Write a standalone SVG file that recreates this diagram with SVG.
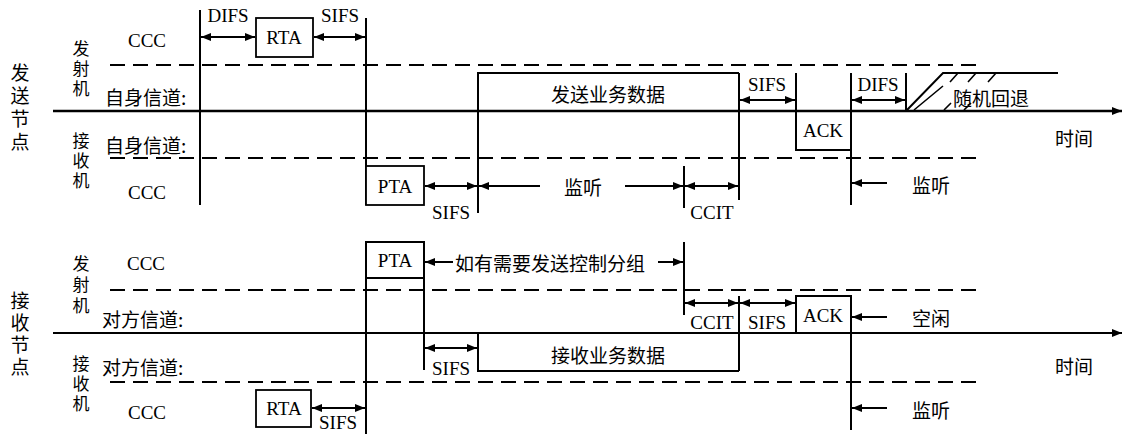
<svg xmlns="http://www.w3.org/2000/svg" width="1123" height="434" viewBox="0 0 1123 434">
<defs>
<marker id="ah" viewBox="0 0 10 8" refX="10" refY="4" markerWidth="11" markerHeight="8" orient="auto-start-reverse" markerUnits="userSpaceOnUse"><path d="M0,0 L10,4 L0,8 z" fill="#000"/></marker>
<style>
.ln{stroke:#000;stroke-width:2;fill:none}
.th{stroke:#000;stroke-width:1.6;fill:none}
.ds{stroke:#000;stroke-width:2.2;fill:none;stroke-dasharray:15 8}
.ar{stroke:#000;stroke-width:2;fill:none;marker-end:url(#ah)}
.da{stroke:#000;stroke-width:2;fill:none;marker-start:url(#ah);marker-end:url(#ah)}
.bx{stroke:#000;stroke-width:1.8;fill:#fff}
.en{font-family:"Liberation Serif",serif;font-size:19px;fill:#000;text-anchor:middle}
.cn{font-family:"Noto Sans CJK SC",sans-serif;font-size:19px;fill:#000;dominant-baseline:central}
.cm{font-family:"Noto Sans CJK SC",sans-serif;font-size:19px;fill:#000;dominant-baseline:central;text-anchor:middle}
.vt{font-family:"Noto Sans CJK SC",sans-serif;font-size:19px;fill:#000;writing-mode:vertical-rl}
.vs{font-family:"Noto Sans CJK SC",sans-serif;font-size:17px;fill:#000;writing-mode:vertical-rl}
</style>
</defs>
<rect width="1123" height="434" fill="#fff"/>

<g id="labels-left">
<text class="vt" x="20" y="63.5" letter-spacing="4">发送节点</text>
<text class="vt" x="20" y="291.5" letter-spacing="3">接收节点</text>
<text class="vs" x="81" y="40.5" letter-spacing="3">发射机</text>
<text class="vs" x="81" y="132.5" letter-spacing="3">接收机</text>
<text class="vs" x="81" y="255.5" letter-spacing="4">发射机</text>
<text class="vs" x="81" y="355.5" letter-spacing="3">接收机</text>
<text class="en" x="147" y="47">CCC</text>
<text class="en" x="147" y="199">CCC</text>
<text class="en" x="146" y="270">CCC</text>
<text class="en" x="147" y="419">CCC</text>
<text class="cn" x="105" y="96">自身信道:</text>
<text class="cn" x="105" y="144">自身信道:</text>
<text class="cn" x="102" y="318">对方信道:</text>
<text class="cn" x="102" y="366">对方信道:</text>
<text class="cn" x="1055" y="137">时间</text>
<text class="cn" x="1055" y="365">时间</text>
</g>

<g id="axes">
<line class="ds" x1="110" y1="65" x2="980" y2="65"/>
<line class="ds" x1="110" y1="158" x2="980" y2="158"/>
<line class="ds" x1="110" y1="290" x2="980" y2="290"/>
<line class="ds" x1="110" y1="382" x2="980" y2="382"/>
<line class="ar" x1="53" y1="111" x2="1122" y2="111" style="stroke-width:2.4"/>
<line class="ar" x1="53" y1="333" x2="1122" y2="333"/>
</g>

<g id="connectors">
<line class="ln" x1="200" y1="10" x2="200" y2="205"/>
<line class="ln" x1="366" y1="18" x2="366" y2="205"/>
<line class="ln" x1="366" y1="242" x2="366" y2="434"/>
<line class="ln" x1="684" y1="166" x2="684" y2="208"/>
<line class="ln" x1="739" y1="73" x2="739" y2="200"/>
<line class="ln" x1="851" y1="73" x2="851" y2="205"/>
<line class="ln" x1="906" y1="73" x2="906" y2="111"/>
<line class="ln" x1="478" y1="111" x2="478" y2="213"/>
<line class="ln" x1="424" y1="278" x2="424" y2="370"/>
<line class="ln" x1="684" y1="242" x2="684" y2="315"/>
<line class="ln" x1="739" y1="296" x2="739" y2="371"/>
<line class="ln" x1="851" y1="333" x2="851" y2="430"/>

<line class="da" x1="201" y1="37" x2="255" y2="37"/>
<line class="da" x1="314" y1="37" x2="365" y2="37"/>
<line class="da" x1="425" y1="186" x2="477" y2="186"/>
<line class="ar" x1="540" y1="186" x2="479" y2="186"/>
<line class="ar" x1="625" y1="186" x2="683" y2="186"/>
<line class="da" x1="685" y1="186" x2="738" y2="186"/>
<line class="da" x1="740" y1="100" x2="795" y2="100"/>
<line class="da" x1="852" y1="100" x2="905" y2="100"/>
<line class="ar" x1="887" y1="183" x2="852" y2="183"/>

<line class="ar" x1="453" y1="262" x2="425" y2="262"/>
<line class="ar" x1="658" y1="262" x2="683" y2="262"/>
<line class="da" x1="685" y1="303" x2="738" y2="303"/>
<line class="da" x1="740" y1="303" x2="795" y2="303"/>
<line class="ar" x1="887" y1="317" x2="852" y2="317"/>
<line class="da" x1="425" y1="348" x2="477" y2="348"/>
<line class="da" x1="312" y1="408" x2="365" y2="408"/>
<line class="ar" x1="887" y1="408" x2="852" y2="408"/>
</g>

<g id="interval-labels">
<text class="en" x="228" y="22">DIFS</text>
<text class="en" x="340" y="22">SIFS</text>
<text class="en" x="451" y="219">SIFS</text>
<text class="en" x="712" y="219">CCIT</text>
<text class="en" x="767" y="91">SIFS</text>
<text class="en" x="878" y="91">DIFS</text>
<text class="cm" x="583" y="186">监听</text>
<text class="cn" x="912" y="184">监听</text>
<text class="cn" x="455" y="262">如有需要发送控制分组</text>
<text class="en" x="712" y="329">CCIT</text>
<text class="en" x="767" y="329">SIFS</text>
<text class="cn" x="912" y="317">空闲</text>
<text class="en" x="451" y="375">SIFS</text>
<text class="en" x="338" y="429">SIFS</text>
<text class="cn" x="912" y="409">监听</text>
</g>

<g id="rta-top"><rect class="bx" x="256" y="18" width="57" height="39"/><text class="en" x="284" y="44">RTA</text></g>
<g id="pta-top"><rect class="bx" x="366" y="166" width="58" height="39"/><text class="en" x="395" y="193">PTA</text></g>
<g id="data-send"><path class="ln" d="M478,111 V73 H739"/><text class="cm" x="608" y="93">发送业务数据</text></g>
<g id="ack-top"><path class="ln" d="M796,73 V150 H851"/><text class="en" x="823" y="137">ACK</text></g>
<g id="backoff">
<path class="ln" d="M906,111 L943,73 H1058"/>
<path class="th" d="M914,110 L943,86 M958,73 L950,82 M976,73 L968,82 M996,73 L988,82 M944,110 L951,103 M964,110 L971,103"/>
<text class="cn" x="953" y="97">随机回退</text>
</g>
<g id="pta-bottom"><path class="ln" d="M366,278 V242 H424 V278 M366,278 H424"/><text class="en" x="395" y="267">PTA</text></g>
<g id="data-recv"><path class="ln" d="M478,334 V371 H739"/><text class="cm" x="608" y="354">接收业务数据</text></g>
<g id="ack-bottom"><path class="ln" d="M796,333 V296 H851 V333"/><text class="en" x="823" y="322">ACK</text></g>
<g id="rta-bottom"><rect class="bx" x="256" y="390" width="55" height="37"/><text class="en" x="284" y="415">RTA</text></g>
</svg>
